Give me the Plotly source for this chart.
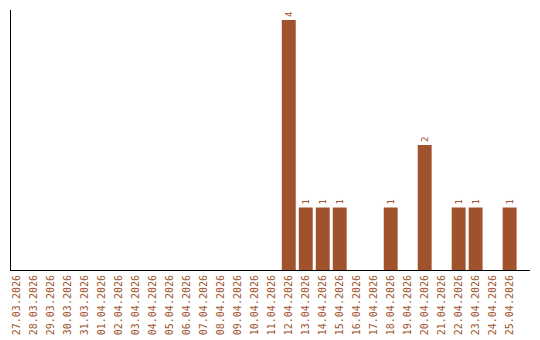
import plotly.graph_objects as go

dates = ["27.03.2026", "28.03.2026", "29.03.2026", "30.03.2026", "31.03.2026",
         "01.04.2026", "02.04.2026", "03.04.2026", "04.04.2026", "05.04.2026",
         "06.04.2026", "07.04.2026", "08.04.2026", "09.04.2026", "10.04.2026",
         "11.04.2026", "12.04.2026", "13.04.2026", "14.04.2026", "15.04.2026",
         "16.04.2026", "17.04.2026", "18.04.2026", "19.04.2026", "20.04.2026",
         "21.04.2026", "22.04.2026", "23.04.2026", "24.04.2026", "25.04.2026"]
counts = [0, 0, 0, 0, 0, 0, 0, 0, 0, 0, 0, 0, 0, 0, 0, 0,
          4, 1, 1, 1, 0, 0, 1, 0, 2, 0, 1, 1, 0, 1]

color = "#a0522d"
labels = [str(v) if v else "" for v in counts]

fig = go.Figure(go.Bar(
    x=dates, y=counts, text=labels, textposition="outside",
    textangle=-90, cliponaxis=False, width=0.82,
    marker=dict(color=color, line=dict(width=0)),
    textfont=dict(family="DejaVu Sans Mono", size=9, color=color),
))
fig.update_layout(
    width=540, height=340,
    margin=dict(l=11, r=10, t=10, b=70),
    paper_bgcolor="white", plot_bgcolor="white",
    showlegend=False,
    uniformtext=dict(minsize=9, mode="show"),
    xaxis=dict(type="category", range=[-0.35, 30.2], tickangle=-90, automargin=False,
               showline=True, linecolor="black", linewidth=1, showgrid=False,
               ticks="", tickfont=dict(family="DejaVu Sans Mono", size=10, color=color)),
    yaxis=dict(range=[0, 4.16], showline=True, linecolor="black", linewidth=1,
               automargin=False,
               showgrid=False, showticklabels=False, ticks="", zeroline=False),
)
fig.write_html("out.html")
